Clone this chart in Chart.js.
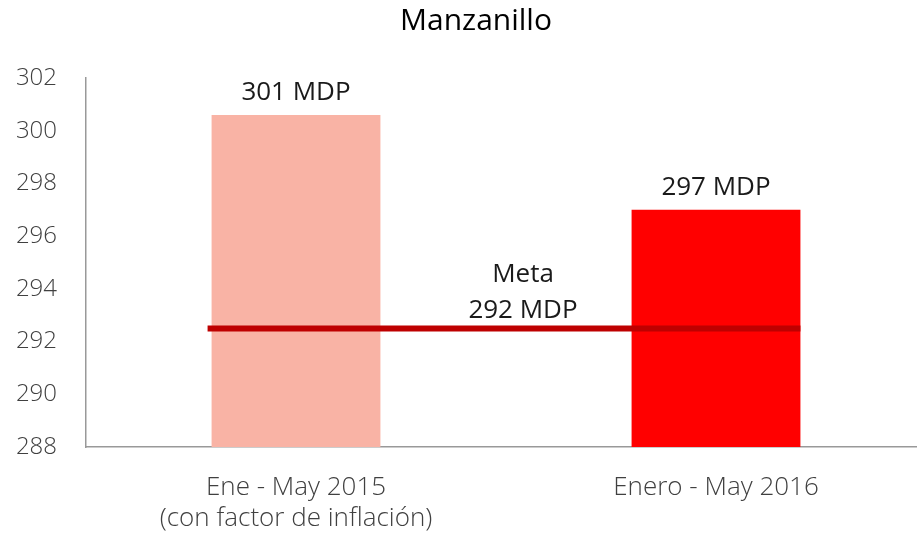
<!DOCTYPE html>
<html>
<head>
<meta charset="utf-8">
<script src="https://cdn.jsdelivr.net/npm/chart.js@4"></script>
<style>
  html, body { margin: 0; padding: 0; background: #fff; overflow: hidden; }
  #wrap { width: 926px; height: 538px; }
</style>
</head>
<body>
<div id="wrap"><canvas id="chart" width="926" height="538"></canvas></div>
<script>
// data
const categories = [['Ene - May 2015', '(con factor de inflación)'], 'Enero - May 2016'];
const values = [300.6, 297.0];
const barLabels = ['301 MDP', '297 MDP'];
const metaValue = 292.5;
const metaLabel = ['Meta', '292 MDP'];
const yTicks = [288, 290, 292, 294, 296, 298, 300, 302];

const FONT = '"Open Sans", "Noto Sans", sans-serif';

// value labels over the bars + the goal line
const overlay = {
  id: 'overlay',
  afterLayout(chart) {
    // title sits a little right of the canvas centre in the original
    if (chart.titleBlock) chart.titleBlock.left += 26;
  },
  afterDatasetsDraw(chart) {
    const ctx = chart.ctx;
    const bars = chart.getDatasetMeta(0).data;
    const y = chart.scales.y;

    // meta line from just left of first bar to right edge of last bar
    const first = bars[0], last = bars[bars.length - 1];
    const yl = y.getPixelForValue(metaValue);
    ctx.save();
    ctx.strokeStyle = '#BE0000';
    ctx.lineWidth = 6;
    ctx.beginPath();
    ctx.moveTo(first.x - first.width / 2 - 4, yl);
    ctx.lineTo(last.x + last.width / 2, yl);
    ctx.stroke();

    ctx.fillStyle = '#1a1a1a';
    ctx.font = '26px ' + FONT;
    ctx.textAlign = 'center';
    ctx.textBaseline = 'middle';
    bars.forEach((b, i) => {
      ctx.fillText(barLabels[i], b.x, b.y - 22);
    });
    const mx = (first.x + last.x) / 2 + 17;
    ctx.fillText(metaLabel[0], mx, yl - 54);
    ctx.fillText(metaLabel[1], mx, yl - 18);
    ctx.restore();
  }
};

new Chart(document.getElementById('chart'), {
  type: 'bar',
  data: {
    labels: categories,
    datasets: [{
      data: values,
      backgroundColor: ['#F9B3A5', '#FF0000'],
      categoryPercentage: 1,
      barPercentage: 0.402
    }]
  },
  options: {
    responsive: false,
    animation: false,
    layout: { padding: 0 },
    plugins: {
      legend: { display: false },
      tooltip: { enabled: false },
      title: {
        display: true,
        text: 'Manzanillo',
        color: '#000',
        font: { family: FONT, size: 30, weight: 'normal' },
        padding: { top: 3, bottom: 39 }
      }
    },
    scales: {
      x: {
        grid: { display: false, drawTicks: false },
        border: { color: '#999', width: 1.5 },
        ticks: {
          color: '#404040',
          font: { family: FONT, size: 26, weight: '300' },
          padding: 25
        },
        afterFit: s => { s.height = 91; s.paddingLeft = 0; s.paddingRight = 0; }
      },
      y: {
        min: yTicks[0],
        max: yTicks[yTicks.length - 1],
        afterBuildTicks: s => { s.ticks = yTicks.map(v => ({ value: v })); },
        grid: { display: false, drawTicks: false },
        border: { color: '#999', width: 1.5 },
        ticks: {
          color: '#404040',
          font: { family: FONT, size: 24, weight: '300' },
          padding: 29
        },
        afterFit: s => { s.width = 86; }
      }
    }
  },
  plugins: [overlay]
});
</script>
</body>
</html>
